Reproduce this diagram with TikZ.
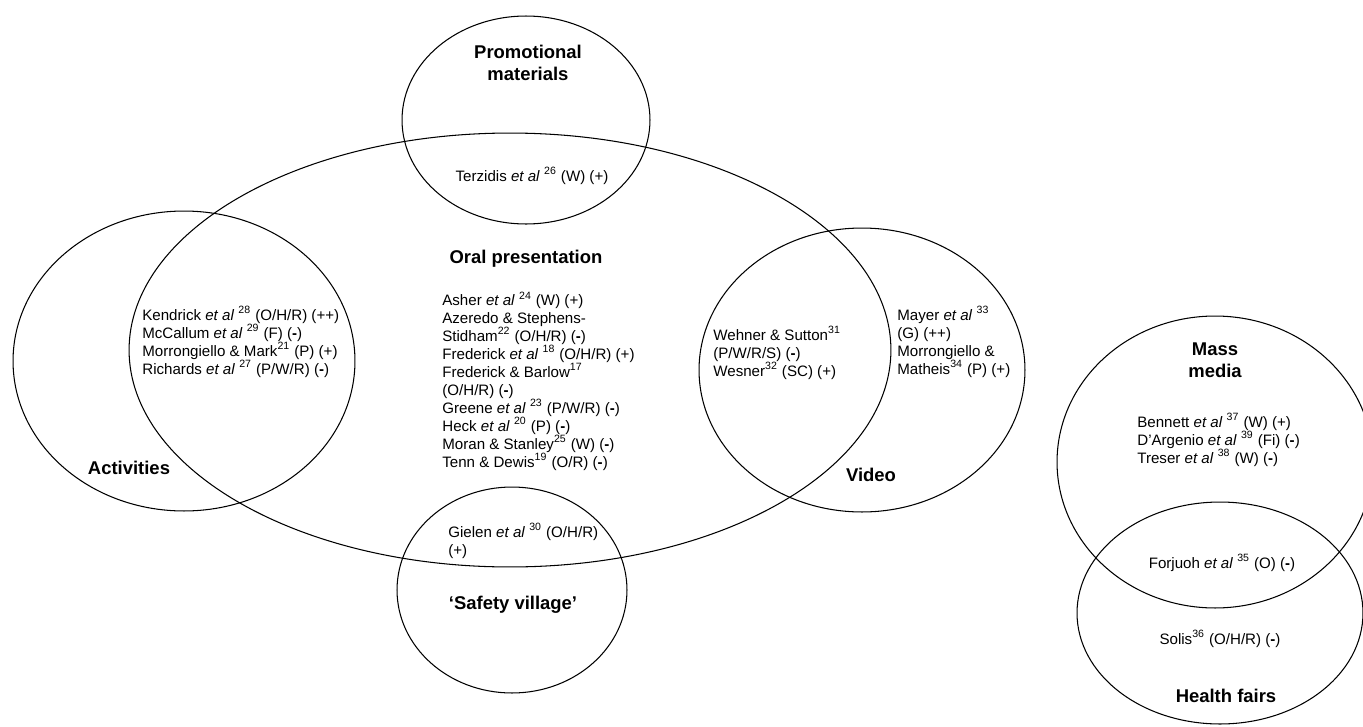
\documentclass[tikz,border=0pt]{standalone}
\usepackage{fontspec}
\setmainfont{Liberation Sans}
\usetikzlibrary{shapes.geometric}

\begin{document}
\begin{tikzpicture}[x=0.02cm, y=-0.02cm,
  set/.style={draw, ellipse, line width=0.6pt, inner sep=0pt},
  heading/.style={inner sep=0pt, align=center, font=\fontsize{10.5}{12.6}\selectfont\bfseries},
  refs/.style={inner sep=0pt, align=left, anchor=west, font=\fontsize{8.6}{10.2}\selectfont}]
        \useasboundingbox (0,0) rectangle (1363,727);

        \node[set, minimum width=15.24cm, minimum height=8.68cm] (oral) at (510,350) {};
        \node[set, minimum width=4.96cm, minimum height=4.16cm] (promo) at (526,120) {};
        \node[set, minimum width=6.84cm, minimum height=6.0cm] (activ) at (184,361) {};
        \node[set, minimum width=6.52cm, minimum height=5.68cm] (video) at (862,370) {};
        \node[set, minimum width=4.6cm, minimum height=4.12cm] (safety) at (512,590) {};
        \node[set, minimum width=6.32cm, minimum height=5.84cm] (media) at (1215,462) {};
        \node[set, minimum width=5.72cm, minimum height=4.44cm] (fairs) at (1220,613) {};

        \node[heading] (promohead) at (528,63) {Promotional\\materials};
        \node[heading] (oralhead) at (526,259) {Oral presentation};
        \node[heading] (activhead) at (129,468) {Activities};
        \node[heading] (videohead) at (871,475) {Video};
        \node[heading] (safetyhead) at (513,605) {‘Safety village’};
        \node[heading] (mediahead) at (1215,360) {Mass\\media};
        \node[heading] (fairshead) at (1226,696) {Health fairs};

        \node[refs, anchor=center] (promorefs) at (532,176) {Terzidis \textit{et al} \textsuperscript{26} (W) (+)};
        \node[refs] (oralrefs) at (442,381) {Asher \textit{et al} \textsuperscript{24} (W) (+)\\
          Azeredo \& Stephens-\\
          Stidham\textsuperscript{22} (O/H/R) (\textbf{-})\\
          Frederick \textit{et al} \textsuperscript{18} (O/H/R) (+)\\
          Frederick \& Barlow\textsuperscript{17}\\
          (O/H/R) (\textbf{-})\\
          Greene \textit{et al} \textsuperscript{23} (P/W/R) (\textbf{-})\\
          Heck \textit{et al} \textsuperscript{20} (P) (\textbf{-})\\
          Moran \& Stanley\textsuperscript{25} (W) (\textbf{-})\\
          Tenn \& Dewis\textsuperscript{19} (O/R) (\textbf{-})};
        \node[refs] (activrefs) at (142,342) {Kendrick \textit{et al} \textsuperscript{28} (O/H/R) (++)\\
          McCallum \textit{et al} \textsuperscript{29} (F) (\textbf{-})\\
          Morrongiello \& Mark\textsuperscript{21} (P) (+)\\
          Richards \textit{et al} \textsuperscript{27} (P/W/R) (\textbf{-})};
        \node[refs] (videorefs) at (713,353) {Wehner \& Sutton\textsuperscript{31}\\
          (P/W/R/S) (\textbf{-})\\
          Wesner\textsuperscript{32} (SC) (+)};
        \node[refs] (mayerrefs) at (897,342) {Mayer \textit{et al} \textsuperscript{33}\\
          (G) (++)\\
          Morrongiello \&\\
          Matheis\textsuperscript{34} (P) (+)};
        \node[refs] (safetyrefs) at (448,541) {Gielen \textit{et al} \textsuperscript{30} (O/H/R)\\(+)};
        \node[refs] (mediarefs) at (1137,440) {Bennett \textit{et al} \textsuperscript{37} (W) (+)\\
          D’Argenio \textit{et al} \textsuperscript{39} (Fi) (\textbf{-})\\
          Treser \textit{et al} \textsuperscript{38} (W) (\textbf{-})};
        \node[refs, anchor=center] (bothrefs) at (1222,563) {Forjuoh \textit{et al} \textsuperscript{35} (O) (\textbf{-})};
        \node[refs, anchor=center] (fairsrefs) at (1220,639) {Solis\textsuperscript{36} (O/H/R) (\textbf{-})};
    \end{tikzpicture}
\end{document}
